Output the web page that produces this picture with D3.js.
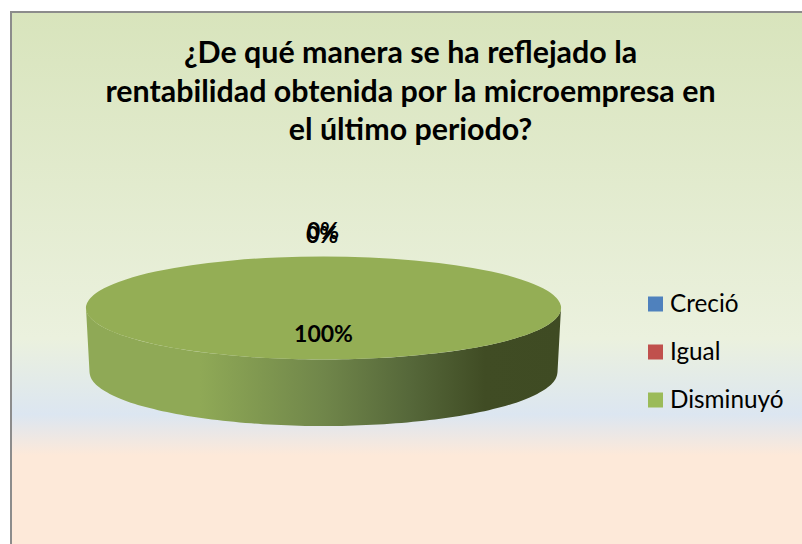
<!DOCTYPE html>
<html>
<head>
<meta charset="utf-8">
<script src="https://cdn.jsdelivr.net/npm/d3@7"></script>
<style>
  html, body { margin: 0; padding: 0; background: #fff; overflow: hidden; }
  text { font-family: Lato, "Open Sans", sans-serif; fill: #000; }
</style>
</head>
<body>
<div id="chart"></div>
<script>
"use strict";

var titleLines = [
  "¿De qué manera se ha reflejado la",
  "rentabilidad obtenida por la microempresa en",
  "el último periodo?"
];
var categories = ["Creció", "Igual", "Disminuyó"];
var values = [0, 0, 100];
var sliceColors = ["#4f81bd", "#c0504d", "#9bbb59"];
var topColors = ["#4f81bd", "#c0504d", "#94ae55"];

var width = 802;
var height = 544;
var cx = 323.5;
var cy = 308;
var rx = 237.5;
var ry = 51.5;
var bottomCy = 372;
var bottomRx = 234;
var bottomRy = 54;

var svg = d3.select("#chart").append("svg")
  .attr("width", width)
  .attr("height", height);

var defs = svg.append("defs");

var bg = defs.append("linearGradient")
  .attr("id", "bg")
  .attr("x1", 0).attr("y1", 0).attr("x2", 0).attr("y2", 1);
[[0, "#d8e4bc"], [0.6, "#ebf1de"], [0.74, "#dce6f1"], [0.815, "#fde9d9"], [1, "#fde9d9"]].forEach(function(s) {
  bg.append("stop").attr("offset", s[0]).attr("stop-color", s[1]);
});

var side = defs.append("linearGradient")
  .attr("id", "side")
  .attr("x1", 0).attr("y1", 0).attr("x2", 1).attr("y2", 0);
[[0, "#8fa956"], [0.24, "#8fa956"], [0.5, "#70864a"], [0.68, "#56683a"], [0.84, "#404c24"], [1, "#3f4b23"]].forEach(function(s) {
  side.append("stop").attr("offset", s[0]).attr("stop-color", s[1]);
});

// chart area with its grey frame
svg.append("rect")
  .attr("x", 11)
  .attr("y", 12)
  .attr("width", width)
  .attr("height", height)
  .attr("fill", "url(#bg)")
  .attr("stroke", "#8c8c8c")
  .attr("stroke-width", 2);

svg.append("g").selectAll("text")
  .data(titleLines)
  .enter().append("text")
  .attr("x", 410.5)
  .attr("y", function(d, i) { return 63 + i * 38.5; })
  .attr("text-anchor", "middle")
  .attr("font-size", 30.4)
  .attr("font-weight", 700)
  .text(function(d) { return d; });

// pie, flattened into an ellipse
var pie = d3.pie().sort(null).value(function(d) { return d; });
var arcs = pie(values);
var arc = d3.arc().innerRadius(0).outerRadius(rx);

// outer wall of the disc, bottom edge a bit narrower than the top
var wallAngle = d3.scaleLinear().domain([0, 60]).range([Math.PI, 0]);
var wallAngles = d3.range(61).map(wallAngle);
var wall = d3.area()
  .x0(function(a) { return cx + Math.cos(a) * rx; })
  .y0(function(a) { return cy + Math.sin(a) * ry; })
  .x1(function(a) { return cx + Math.cos(a) * bottomRx; })
  .y1(function(a) { return bottomCy + Math.sin(a) * bottomRy; })
  .curve(d3.curveBasis);

svg.append("path")
  .attr("d", wall(wallAngles))
  .attr("fill", "url(#side)");

svg.append("g")
  .attr("transform", "translate(" + cx + "," + cy + ") scale(1," + (ry / rx) + ")")
  .selectAll("path")
  .data(arcs)
  .enter().append("path")
  .attr("d", arc)
  .attr("fill", function(d, i) { return topColors[i]; });

// data labels, the two empty slices land on top of each other
var labelY = [239, 243, 342];
var labelX = [323, 322, 323.5];
svg.append("g").selectAll("text")
  .data(values)
  .enter().append("text")
  .attr("x", function(d, i) { return labelX[i]; })
  .attr("y", function(d, i) { return labelY[i]; })
  .attr("text-anchor", "middle")
  .attr("font-size", 23)
  .attr("font-weight", 700)
  .text(function(d) { return d + "%"; });

// legend
var legendY = d3.scalePoint().domain(categories).range([304, 400]);
var legend = svg.append("g").selectAll("g")
  .data(categories)
  .enter().append("g")
  .attr("transform", function(d) { return "translate(648," + legendY(d) + ")"; });

legend.append("rect")
  .attr("x", 0)
  .attr("y", -7.5)
  .attr("width", 15)
  .attr("height", 15)
  .attr("fill", function(d, i) { return sliceColors[i]; });

legend.append("text")
  .attr("x", 22)
  .attr("y", 8)
  .attr("font-size", 24.3)
  .text(function(d) { return d; });
</script>
</body>
</html>
